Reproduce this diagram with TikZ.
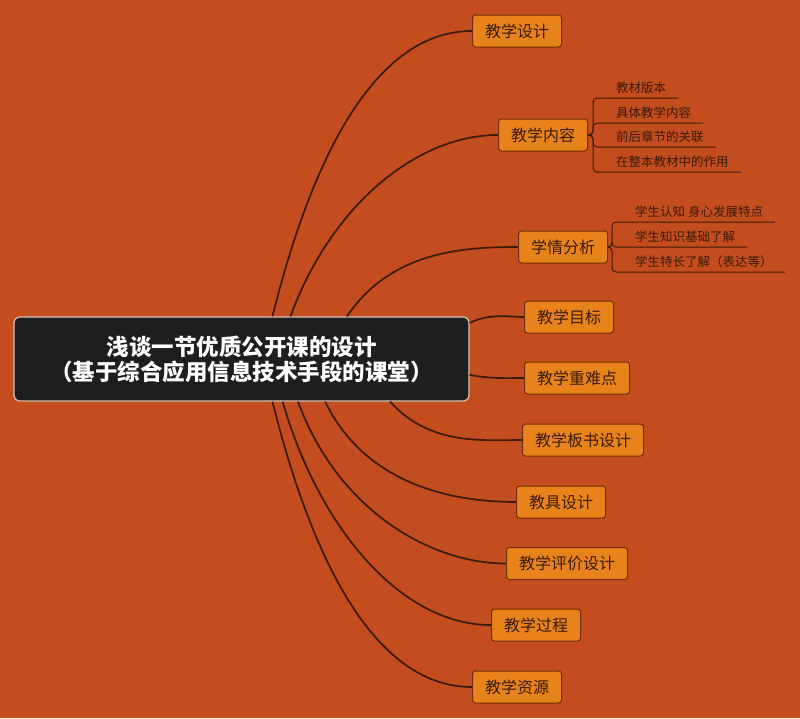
\documentclass[tikz,border=0pt]{standalone}
\usepackage{fontspec}
\setmainfont{Noto Sans CJK SC}
\usetikzlibrary{positioning}
\definecolor{mapbg}{HTML}{C44D1F}
\definecolor{topicfill}{HTML}{E8831B}
\definecolor{topicline}{HTML}{6E2E08}
\definecolor{inkdark}{HTML}{3A1A08}
\definecolor{rootfill}{HTML}{1E1E1E}
\definecolor{rootline}{HTML}{D8C0B0}
\tikzset{
  rootb/.style={draw=rootline, fill=rootfill, rounded corners=6pt, line width=1.2pt,
    minimum width=455pt, minimum height=84pt, align=center, text=white,
    font=\fontsize{22.5}{25}\selectfont\bfseries},
  topb/.style={draw=topicline, fill=topicfill, rounded corners=3pt, line width=1pt,
    minimum height=32pt, inner xsep=12.5pt, text=inkdark, anchor=west,
    font=\fontsize{16}{18}\selectfont},
  subt/.style={inner xsep=12pt, inner ysep=4.5pt, anchor=south west, text=inkdark,
    font=\fontsize{12.5}{14}\selectfont},
  branch/.style={line width=1.7pt, draw=inkdark, out looseness=1.1, in looseness=0.75},
  twig/.style={line width=1pt, draw=inkdark, rounded corners=4pt},
}

\begin{document}
\begin{tikzpicture}[x=1pt, y=1pt]
    \fill[mapbg] (0,0) rectangle (800,-718);
    \useasboundingbox (0,0) rectangle (800,-718);
    % central topic
    \node[rootb] (root) at (241.5,-359)
      {浅谈一节优质公开课的设计\\（基于综合应用信息技术手段的课堂）};
    % main topics
    \node[topb] (des)   at (472,-31)  {教学设计};
    \node[topb] (cont)  at (498,-135) {教学内容};
    \node[topb] (stu)   at (518,-247) {学情分析};
    \node[topb] (goal)  at (524,-317) {教学目标};
    \node[topb] (key)   at (524,-378) {教学重难点};
    \node[topb] (board) at (522,-440) {教学板书设计};
    \node[topb] (aid)   at (516,-502) {教具设计};
    \node[topb] (eval)  at (506,-563.5) {教学评价设计};
    \node[topb] (proc)  at (491,-625) {教学过程};
    \node[topb] (res)   at (472,-687) {教学资源};
    % subtopics
    \node[subt] (cont1) at (604,-98)  {教材版本};
    \node[subt] (cont2) at (604,-123) {具体教学内容};
    \node[subt] (cont3) at (604,-147) {前后章节的关联};
    \node[subt] (cont4) at (604,-172) {在整本教材中的作用};
    \node[subt] (stu1) at (623,-222) {学生认知 身心发展特点};
    \node[subt] (stu2) at (623,-247) {学生知识基础了解};
    \node[subt] (stu3) at (623,-272) {学生特长了解（表达等）};
    % branches
    \foreach \n/\a/\o in {des/54/76, cont/41/70, stu/22/56, goal/9/25, key/-4/-10,
        board/-16/-48, aid/-27/-64, eval/-37/-70, proc/-46/-74, res/-54/-76}
      \draw[branch] (root.\a) to[out=\o, in=180] (\n.west);
    \foreach \s in {cont1,cont2,cont3,cont4}
      \draw[twig] (cont.east) -- ++(5,0) |- (\s.south east);
    \foreach \s in {stu1,stu2,stu3}
      \draw[twig] (stu.east) -- ++(4,0) |- (\s.south east);
\end{tikzpicture}
\end{document}
